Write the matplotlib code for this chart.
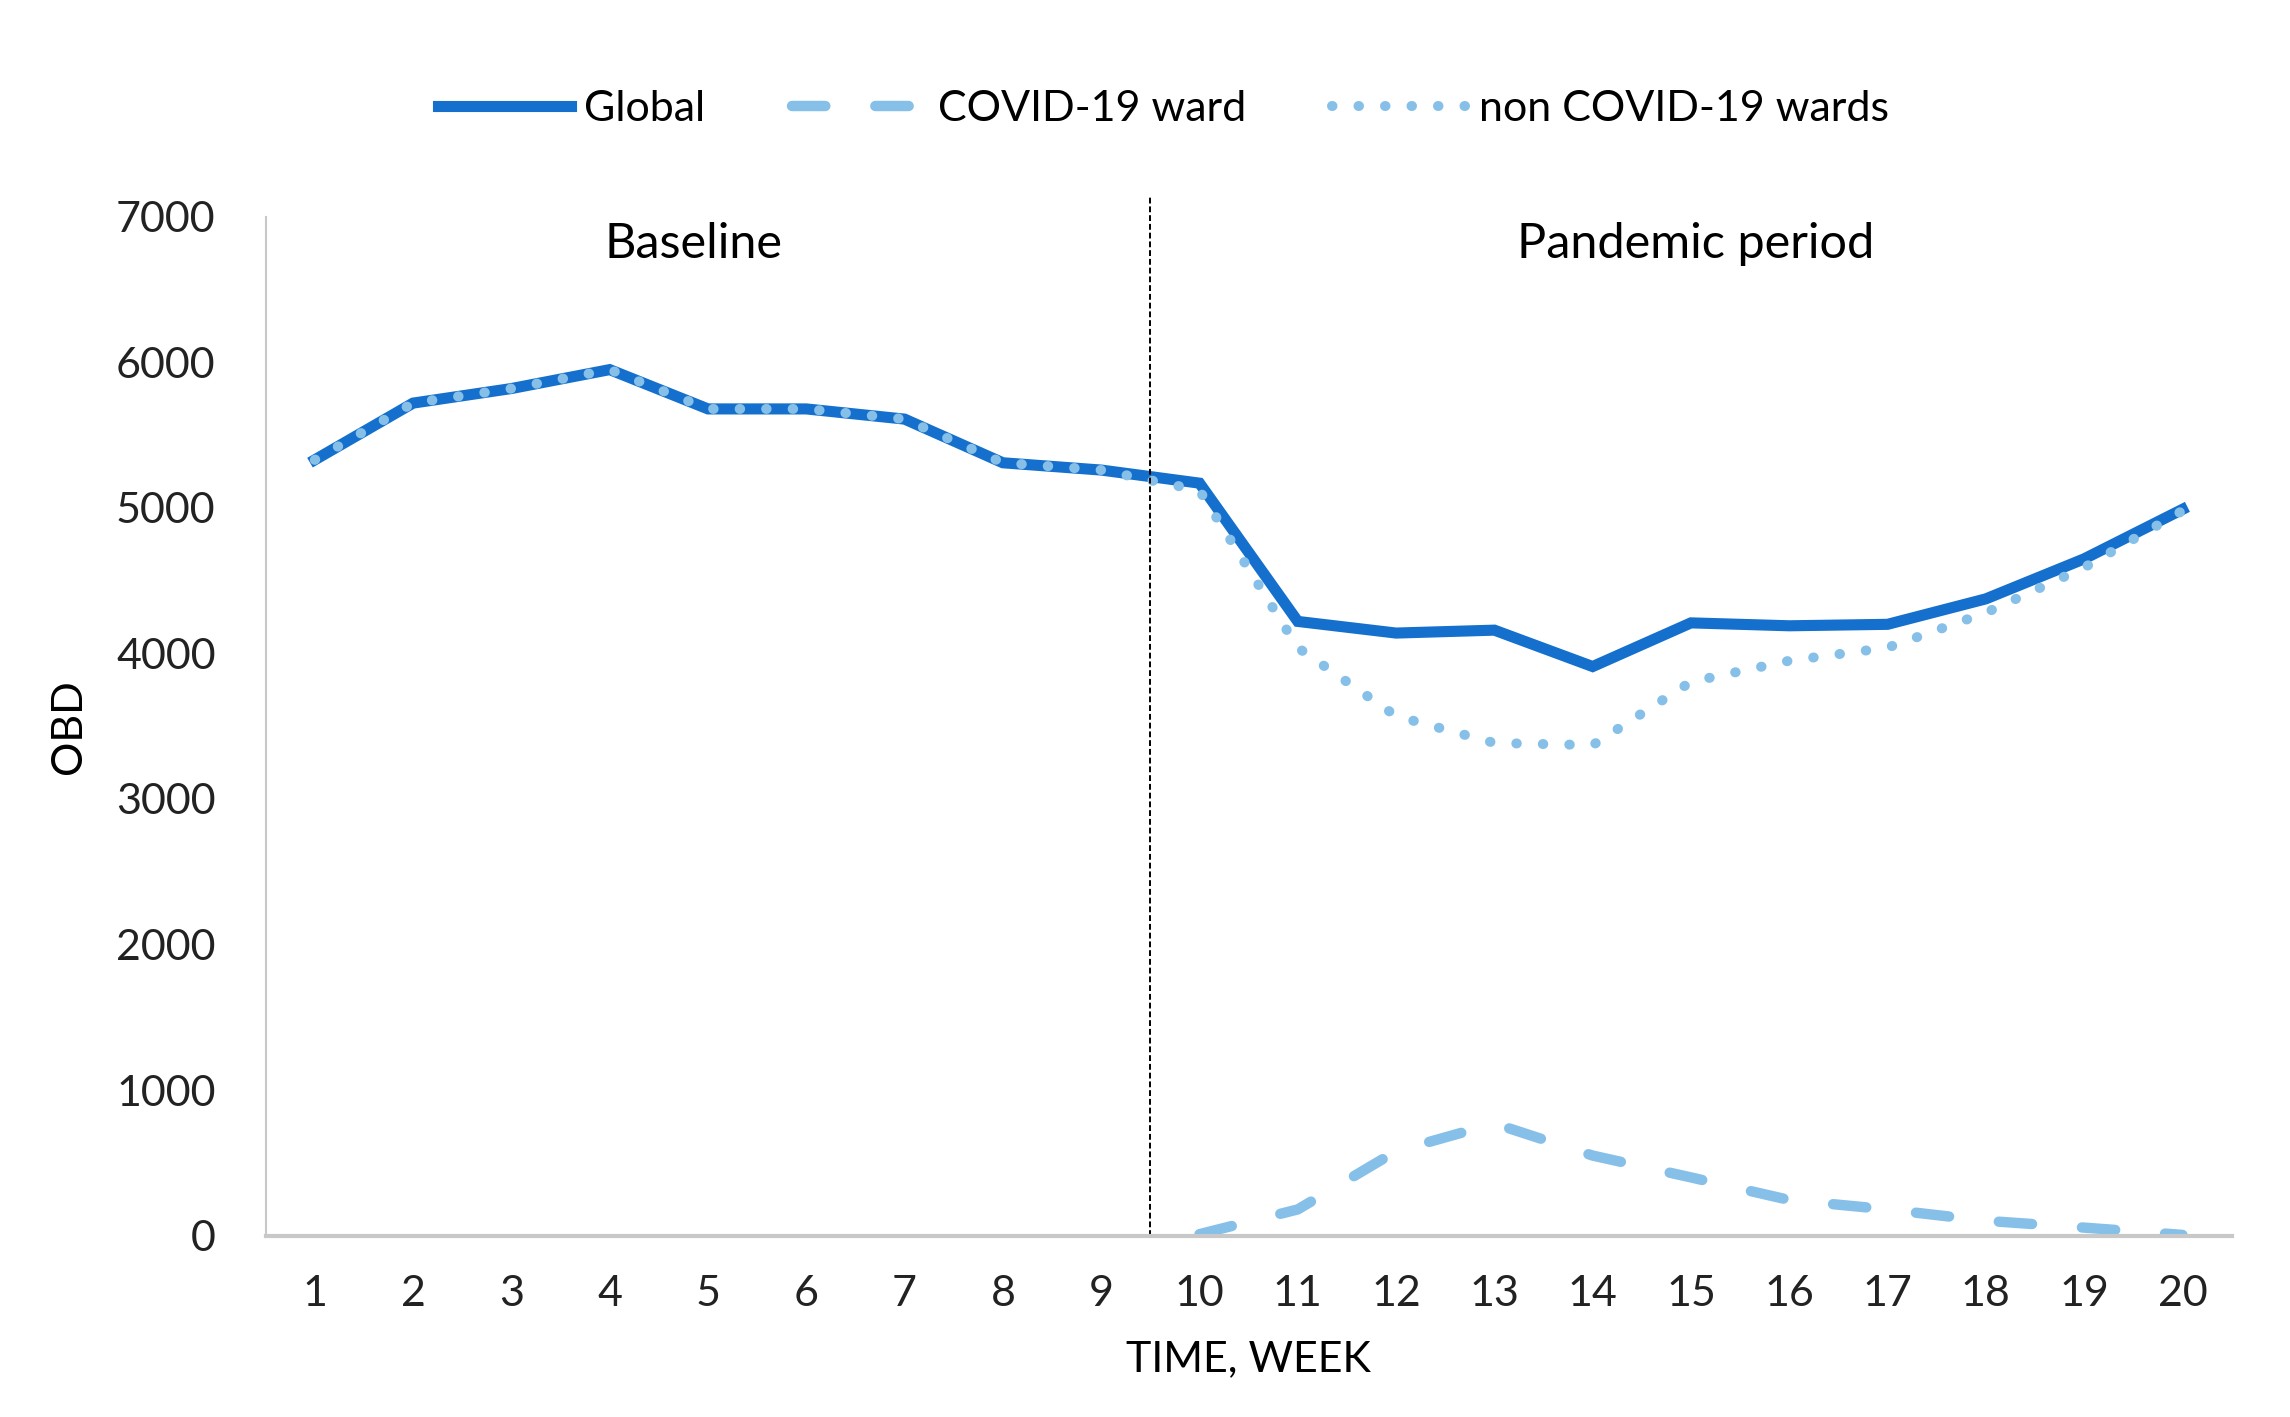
import matplotlib
matplotlib.use("Agg")
from matplotlib import pyplot as plt

plt.rcParams['font.family'] = ['Lato', 'DejaVu Sans']

weeks = list(range(1, 21))
global_obd = [5330, 5720, 5820, 5950, 5680, 5680, 5610, 5310, 5260, 5170,
              4220, 4140, 4160, 3910, 4210, 4190, 4200, 4375, 4650, 4990]
covid_obd = [None] * 9 + [10, 180, 580, 770, 550, 400, 245, 180, 102, 55, 5]
non_covid_obd = [5330, 5720, 5820, 5950, 5680, 5680, 5610, 5310, 5260, 5120,
                 4040, 3570, 3385, 3370, 3805, 3950, 4040, 4280, 4590, 4980]

dark_blue = '#1470CC'
light_blue = '#86C0E8'

fig = plt.figure(figsize=(22.9, 14.17), dpi=100)
ax = fig.add_axes([0.116, 0.128, 0.8585, 0.719])

ax.plot(weeks, global_obd, color=dark_blue, linewidth=8,
        solid_joinstyle='miter', label='Global')
covid_x = [w for w, v in zip(weeks, covid_obd) if v is not None]
covid_y = [v for v in covid_obd if v is not None]
ax.plot(covid_x, covid_y, color=light_blue, linewidth=7.5,
        dashes=(3.2, 4.8), dash_capstyle='round', label='COVID-19 ward')
ax.plot(weeks, non_covid_obd, color=light_blue, linewidth=7.2,
        dashes=(0.05, 2.6), dash_capstyle='round', label='non COVID-19 wards')

# separation baseline / pandemic
ax.plot([9.5, 9.5], [0, 7150], color='black', linewidth=1.4,
        linestyle=(0, (3, 1.5)), clip_on=False)

ax.text(4.85, 6810, 'Baseline', ha='center', va='center', fontsize=35)
ax.text(15.05, 6810, 'Pandemic period', ha='center', va='center', fontsize=35)

ax.set_xlim(0.5, 20.5)
ax.set_ylim(0, 7000)
ax.set_xticks(weeks)
ax.set_xticklabels([str(w) for w in weeks])
ax.set_yticks(range(0, 7001, 1000))
ax.tick_params(axis='both', length=0, labelsize=31, colors='#222222')
ax.tick_params(axis='x', pad=28)
ax.tick_params(axis='y', pad=36)

for side in ['top', 'right']:
    ax.spines[side].set_visible(False)
ax.spines['left'].set_color('#C8C8C8')
ax.spines['left'].set_linewidth(1.5)
ax.spines['bottom'].set_color('#C8C8C8')
ax.spines['bottom'].set_linewidth(3)

ax.set_xlabel('TIME, WEEK', fontsize=31, labelpad=20)
ax.set_ylabel('OBD', fontsize=31, labelpad=20)

fig.legend(loc='center', bbox_to_anchor=(0.508, 0.923), ncol=3, frameon=False,
           fontsize=31, handlelength=3.1, columnspacing=2.0, handletextpad=0.3)

fig.savefig('out.png', dpi=100, facecolor='white')
